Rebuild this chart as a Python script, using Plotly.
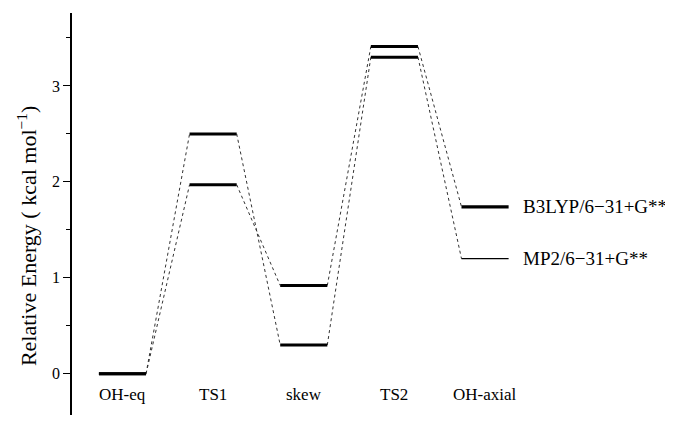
import plotly.graph_objects as go

categories = ["OH-eq", "TS1", "skew", "TS2", "OH-axial"]
b3lyp = [0.0, 1.97, 0.92, 3.41, 1.74]
mp2 = [0.0, 2.50, 0.30, 3.30, 1.20]
series_names = ["B3LYP/6−31+G**", "MP2/6−31+G**"]
y_ticks = [0, 1, 2, 3]

H = 0.26  # half width of level bars (x units)
FONT = "Liberation Serif, Times New Roman, serif"

fig = go.Figure()

def add_series(vals, last_width):
    n = len(vals)
    cx, cy = [], []
    for i in range(n - 1):
        cx += [i + H, i + 1 - H, None]
        cy += [vals[i], vals[i + 1], None]
    fig.add_trace(go.Scatter(x=cx, y=cy, mode="lines",
                             line=dict(color="#333", width=1, dash="dot"),
                             hoverinfo="skip", showlegend=False))
    for i in range(n):
        w = last_width if i == n - 1 else 3
        fig.add_trace(go.Scatter(x=[i - H, i + H], y=[vals[i], vals[i]], mode="lines",
                                 line=dict(color="black", width=w),
                                 hoverinfo="skip", showlegend=False))

add_series(mp2, 1.3)
add_series(b3lyp, 3.2)

annotations = []
for i, c in enumerate(categories):
    annotations.append(dict(x=i, y=-0.22, xref="x", yref="y", text=c, showarrow=False,
                            font=dict(family=FONT, size=17, color="black"),
                            xanchor="center", yanchor="middle"))
for name, vals in zip(series_names, [b3lyp, mp2]):
    annotations.append(dict(x=len(categories) - 1 + H + 0.14, y=vals[-1], xref="x", yref="y",
                            text=name, showarrow=False,
                            font=dict(family=FONT, size=19, color="black"),
                            xanchor="left", yanchor="middle"))
annotations.append(dict(x=-0.082, y=0.445, xref="paper", yref="paper",
                        text="Relative Energy ( kcal mol<sup>−1</sup>)", textangle=-90,
                        showarrow=False, font=dict(family=FONT, size=22, color="black"),
                        xanchor="center", yanchor="middle"))

fig.update_layout(
    width=665, height=419,
    margin=dict(l=64, r=52, t=5, b=12),
    plot_bgcolor="white", paper_bgcolor="white",
    annotations=annotations,
    font=dict(family=FONT, size=16, color="black"),
)
fig.update_xaxes(range=[-0.557, 5.5], visible=False)
fig.update_yaxes(range=[-0.43, 3.76], tickvals=y_ticks, ticks="outside", ticklen=7,
                 tickwidth=1.2, tickcolor="black", showline=True, linecolor="black",
                 linewidth=1.5, showgrid=False, zeroline=False,
                 tickfont=dict(family=FONT, size=16),
                 minor=dict(dtick=0.5, tick0=0, ticks="outside", ticklen=4,
                            tickcolor="black", tickwidth=1.2))

fig.write_html("out.html")
